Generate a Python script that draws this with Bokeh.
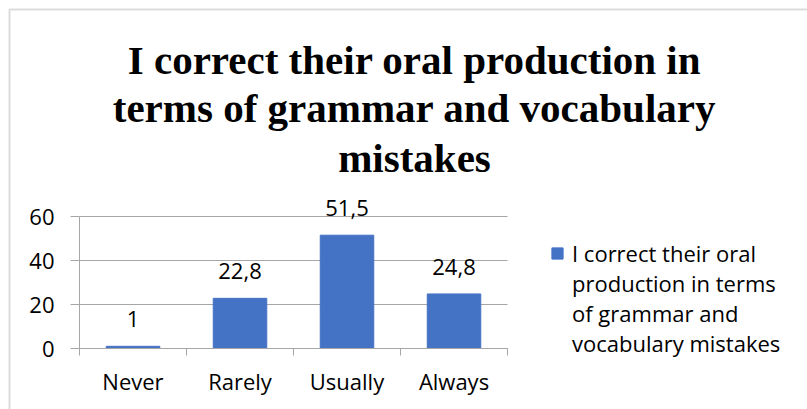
from bokeh.plotting import figure
from bokeh.models import (Range1d, FixedTicker, LabelSet, ColumnDataSource, Label,
                          Legend, LegendItem, BoxAnnotation)
from bokeh.core.properties import value
from bokeh.embed import file_html
from bokeh.resources import INLINE

# ---- data ----
categories = ["Never", "Rarely", "Usually", "Always"]
values = [1, 22.8, 51.5, 24.8]
y_ticks = [0, 20, 40, 60]
title_lines = ["I correct their oral production in",
               "terms of grammar and vocabulary",
               "mistakes"]
series_lines = ["I correct their oral", "production in terms",
                "of grammar and", "vocabulary mistakes"]

value_labels = [f"{v:g}".replace(".", ",") for v in values]

# ---- layout (window pixels) ----
W, H = 807, 409
X0_PX, XN_PX = 79, 507        # where x = 0 and x = n fall
Y0_PX, Y60_PX = 348, 216      # where y = 0 and y = 60 fall
LABEL_FONT = "Open Sans"
AXIS_GRAY = "#a6a6a6"
BAR_COLOR = "#4472C4"

n = len(categories)
ymax_axis = 60
centers = [i + 0.5 for i in range(n)]      # category slot centres
edges = [float(i) for i in range(n + 1)]   # category slot boundaries

def px_x(px):
    return (px - X0_PX) / (XN_PX - X0_PX) * n

def px_y(py):
    return (Y0_PX - py) / (Y0_PX - Y60_PX) * ymax_axis

# the frame covers the whole canvas; axes are pinned inside it
p = figure(width=W, height=H, x_range=Range1d(px_x(0), px_x(W)),
           y_range=Range1d(px_y(H), px_y(0)), output_backend="svg",
           toolbar_location=None, min_border=0)
p.outline_line_color = None
p.background_fill_color = "white"
p.border_fill_color = "white"
p.xgrid.visible = False
p.ygrid.visible = False

# y axis
ya = p.yaxis[0]
ya.fixed_location = 0
ya.ticker = FixedTicker(ticks=y_ticks)
ya.bounds = (0, ymax_axis)
ya.axis_line_color = AXIS_GRAY
ya.major_tick_line_color = AXIS_GRAY
ya.major_tick_out = 9
ya.major_tick_in = 0
ya.minor_tick_line_color = None
ya.major_label_text_font = LABEL_FONT
ya.major_label_text_font_size = "22px"
ya.major_label_text_color = "black"
ya.major_label_standoff = 16

# x axis: labels at slot centres, tick marks at slot boundaries
xa = p.xaxis[0]
xa.fixed_location = 0
xa.ticker = FixedTicker(ticks=centers, minor_ticks=edges)
xa.bounds = (0, n)
xa.major_label_overrides = {c: name for c, name in zip(centers, categories)}
xa.axis_line_color = AXIS_GRAY
xa.major_tick_line_color = None
xa.major_tick_out = 0
xa.major_tick_in = 0
xa.minor_tick_line_color = AXIS_GRAY
xa.minor_tick_out = 7
xa.minor_tick_in = 0
xa.major_label_text_font = LABEL_FONT
xa.major_label_text_font_size = "22px"
xa.major_label_text_color = "black"
xa.major_label_standoff = 10

# horizontal gridlines across the category area only
p.segment(x0=[0] * len(y_ticks), x1=[n] * len(y_ticks), y0=y_ticks, y1=y_ticks,
          line_color=AXIS_GRAY, line_width=1)

# bars
src = ColumnDataSource(dict(x=centers, cat=categories, val=values, lab=value_labels))
bars = p.vbar(x="x", top="val", width=0.5, source=src, fill_color=BAR_COLOR,
              line_color=BAR_COLOR)
# transparent stand-in used only for the wrapped continuation lines of the legend
blank = p.vbar(x=[], top=[], width=0.5, fill_alpha=0, line_alpha=0)

# value labels
p.add_layout(LabelSet(x="x", y="val", text="lab", source=src, y_offset=19,
                      text_align="center", text_baseline="alphabetic",
                      text_font=value(LABEL_FONT), text_font_size=value("22px"),
                      text_color="black"))

# title
for line, base in zip(title_lines, [59, 107, 157]):
    p.add_layout(Label(x=px_x(414), y=px_y(base), text=line,
                       text_align="center", text_baseline="alphabetic",
                       text_font="Liberation Serif", text_font_style="bold",
                       text_font_size="41px", text_color="black"))

# legend (series name wrapped over four rows)
items = [LegendItem(label=series_lines[0], renderers=[bars])]
items += [LegendItem(label=t, renderers=[blank]) for t in series_lines[1:]]
legend = Legend(items=items, location=(550, 51), glyph_width=14, glyph_height=14,
                label_standoff=8, label_text_font=LABEL_FONT, label_text_font_size="22px",
                label_text_color="black", padding=0, margin=0, spacing=-1,
                border_line_color=None, background_fill_alpha=0)
p.add_layout(legend, "center")

# chart-area border (left and top edges visible)
p.add_layout(BoxAnnotation(left=px_x(9), right=px_x(W + 40), top=px_y(9),
                           bottom=px_y(H + 40), fill_alpha=0,
                           line_color="#8c8c8c", line_width=2))

open("out.html", "w").write(file_html(p, INLINE))
